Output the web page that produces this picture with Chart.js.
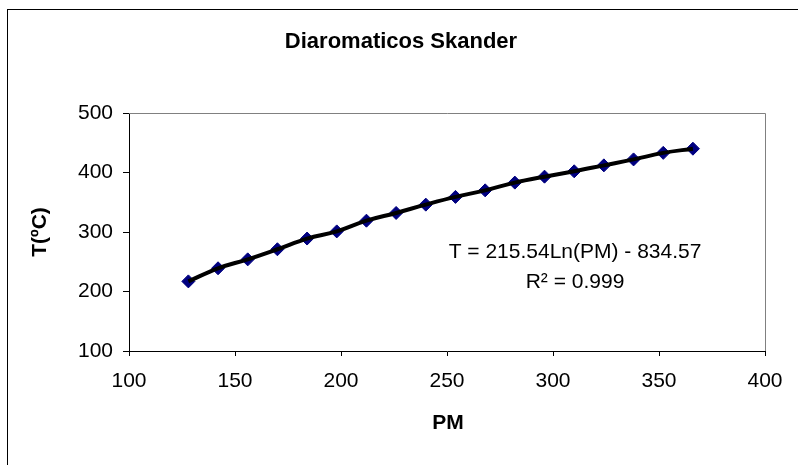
<!DOCTYPE html>
<html lang="es">
<head>
<meta charset="UTF-8">
<title>Diaromaticos Skander</title>
<script src="https://cdn.jsdelivr.net/npm/chart.js"></script>
<style>
    body { margin: 0; background: #fff; }
    canvas { display: block; }
</style>
</head>
<body>
<canvas id="chart" width="798" height="465"></canvas>
<script>
// molecular weight vs boiling temperature, diaromatic series
const pm = [128, 142, 156, 170, 184, 198, 212, 226, 240, 254, 268, 282, 296, 310, 324, 338, 352, 366];
const temp = [217, 239, 254, 271, 289, 301, 319, 332, 346, 359, 370, 383, 393, 402, 412, 422, 433, 440];

const titleText = 'Diaromaticos Skander';
const xTitle = 'PM';
const yTitle = 'T(ºC)';
const eqLines = ['T = 215.54Ln(PM) - 834.57', 'R² = 0.999'];

const FONT = "'Liberation Sans', Arial, sans-serif";

const points = pm.map((x, i) => ({ x: x, y: temp[i] }));

// frame, plot box, titles and the fit equation
const decor = {
    id: 'decor',
    beforeDraw(chart) {
        const c = chart.ctx;
        c.save();
        c.fillStyle = '#fff';
        c.fillRect(0, 0, chart.width, chart.height);
        c.strokeStyle = '#000';
        c.lineWidth = 1;
        c.strokeRect(7.5, 9.5, chart.width + 10, chart.height + 10);
        c.restore();
    },
    afterDraw(chart) {
        const c = chart.ctx;
        const a = chart.chartArea;
        c.save();
        c.strokeStyle = '#808080';
        c.lineWidth = 1;
        c.beginPath();
        c.moveTo(a.left, a.top + 0.5);
        c.lineTo(a.right + 0.5, a.top + 0.5);
        c.lineTo(a.right + 0.5, a.bottom);
        c.stroke();

        c.fillStyle = '#000';
        c.textAlign = 'center';
        c.textBaseline = 'middle';
        c.font = 'bold 22px ' + FONT;
        c.fillText(titleText, 401, 42);
        c.font = 'bold 21px ' + FONT;
        c.fillText(xTitle, 448, 423);

        c.save();
        c.translate(40, 232);
        c.rotate(-Math.PI / 2);
        c.fillText(yTitle, 0, 0);
        c.restore();

        c.font = '21px ' + FONT;
        c.fillText(eqLines[0], 575, 252);
        c.fillText(eqLines[1], 575, 282);
        c.restore();
    }
};

new Chart(document.getElementById('chart'), {
    type: 'scatter',
    data: {
        datasets: [
            {
                label: 'Log. (Diaromaticos)',
                data: points,
                showLine: true,
                borderColor: '#000',
                borderWidth: 4,
                tension: 0.4,
                pointRadius: 0,
                fill: false
            },
            {
                label: 'Diaromaticos',
                data: points,
                pointStyle: 'rectRot',
                pointRadius: 6.5,
                backgroundColor: '#000080',
                borderColor: '#000080',
                borderWidth: 1
            }
        ]
    },
    options: {
        responsive: false,
        animation: false,
        layout: { padding: { top: 113, right: 33, left: 0, bottom: 0 } },
        plugins: {
            legend: { display: false },
            tooltip: { enabled: false }
        },
        scales: {
            x: {
                type: 'linear',
                min: 100,
                max: 400,
                afterFit(s) { s.height = 114; },
                ticks: { stepSize: 50, color: '#000', padding: 13, font: { family: FONT, size: 21 } },
                grid: { drawOnChartArea: false, tickLength: 5, color: '#000' },
                border: { color: '#000', width: 1 }
            },
            y: {
                type: 'linear',
                min: 100,
                max: 500,
                afterFit(s) { s.width = 129; },
                ticks: { stepSize: 100, color: '#000', padding: 10, font: { family: FONT, size: 21 } },
                grid: { drawOnChartArea: false, tickLength: 6, color: '#000' },
                border: { color: '#000', width: 1 }
            }
        }
    },
    plugins: [decor]
});
</script>
</body>
</html>
